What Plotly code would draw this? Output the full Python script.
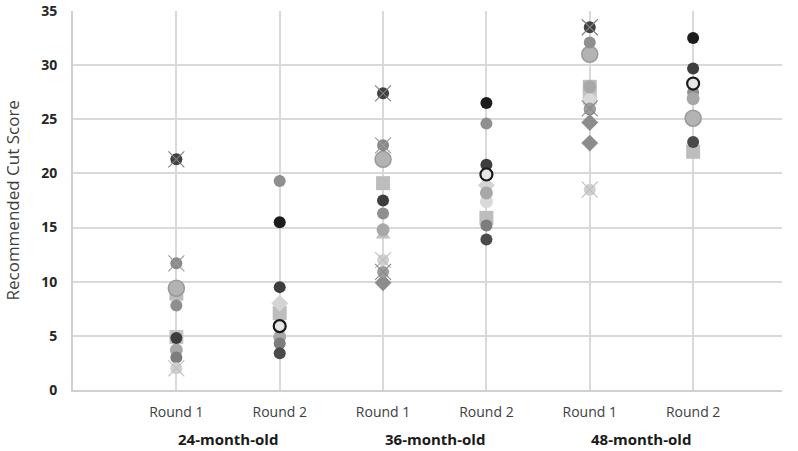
import plotly.graph_objects as go

# Categories (x positions 0..5)
round_labels = ["Round 1", "Round 2", "Round 1", "Round 2", "Round 1", "Round 2"]
age_groups = ["24-month-old", "36-month-old", "48-month-old"]
y_ticks = [0, 5, 10, 15, 20, 25, 30, 35]

# Panelist recommended cut scores per category (None = no marker)
s_dark_x = [21.3, None, 27.4, None, 33.5, None]
s_gray_x = [11.7, None, 22.6, None, None, None]
s_big_circle = [9.4, None, 21.3, None, 31.0, 25.1]
s_light_square = [8.9, 7.1, 19.1, 15.9, 28.0, 22.0]
s_light_square2 = [4.9, None, None, None, 27.0, None]
s_gray_circle = [7.8, 19.3, 16.3, 24.6, 32.1, 27.5]
s_dark_circle = [4.8, 9.5, 17.5, 20.8, None, 29.7]
s_lgray_circle = [3.7, 4.9, 14.8, 18.2, 28.0, 26.9]
s_gray_circle2 = [3.0, 4.3, None, 15.2, 25.9, None]
s_light_x = [2.0, None, 12.0, None, 18.5, None]
s_black_circle = [None, 15.5, None, 26.5, None, 32.5]
s_light_diamond = [None, 8.0, None, 18.9, None, None]
s_open_circle = [None, 5.9, None, 19.9, None, 28.3]
s_dark_circle2 = [None, 3.4, None, 13.9, None, 22.9]
s_triangle = [None, None, 14.3, None, None, None]
s_gray_x2 = [None, None, 10.9, None, 26.0, None]
s_diamond = [None, None, 9.9, None, 24.7, None]
s_diamond2 = [None, None, None, None, 22.8, None]
s_light_circle = [None, None, None, 17.4, 26.8, None]

xpos = list(range(len(round_labels)))

fig = go.Figure()

def add(vals, color, symbol="circle", size=12, line_color=None, line_width=0, xmark=False, xcolor=None):
    xs = [x for x, v in zip(xpos, vals) if v is not None]
    ys = [v for v in vals if v is not None]
    fig.add_trace(go.Scatter(
        x=xs, y=ys, mode="markers", showlegend=False, hoverinfo="y",
        marker=dict(symbol=symbol, size=size, color=color,
                    line=dict(color=line_color or color, width=line_width))))
    if xmark:
        fig.add_trace(go.Scatter(
            x=xs, y=ys, mode="markers", showlegend=False, hoverinfo="skip",
            marker=dict(symbol="x-thin-open", size=16, color=xcolor or color,
                        line=dict(color=xcolor or color, width=1.1))))

add(s_light_square, "#bdbdbd", symbol="square", size=14)
add(s_light_square2, "#c4c4c4", symbol="square", size=14)
add(s_big_circle, "#b3b3b3", size=16, line_color="#9a9a9a", line_width=1.5)
add(s_light_diamond, "#d4d4d4", symbol="diamond", size=13)
add(s_triangle, "#c2c2c2", symbol="triangle-up", size=13)
add(s_light_circle, "#d9d9d9", size=13)
add(s_gray_circle, "#8f8f8f", size=12)
add(s_lgray_circle, "#a8a8a8", size=13)
add(s_gray_circle2, "#7d7d7d", size=12)
add(s_diamond, "#8c8c8c", symbol="diamond", size=13)
add(s_diamond2, "#8c8c8c", symbol="diamond", size=13)
add(s_light_x, "#cfcfcf", size=12, xmark=True, xcolor="#bdbdbd")
add(s_gray_x, "#8a8a8a", size=12, xmark=True, xcolor="#9a9a9a")
add(s_gray_x2, "#9c9c9c", size=12, xmark=True, xcolor="#8a8a8a")
add(s_dark_x, "#424242", size=12, xmark=True, xcolor="#808080")
add(s_dark_circle, "#3d3d3d", size=12)
add(s_dark_circle2, "#4a4a4a", size=12)
add(s_black_circle, "#1c1c1c", size=12)
add(s_open_circle, "#e6e6e6", size=12, line_color="#1a1a1a", line_width=2.2)

for i, g in enumerate(age_groups):
    fig.add_annotation(x=2 * i + 0.5, y=-0.13, xref="x", yref="paper",
                       text=g, showarrow=False, yanchor="middle",
                       font=dict(size=15, color="#1a1a1a", family="Open Sans", weight="bold"))

fig.add_annotation(x=-0.086, y=0.5, xref="paper", yref="paper", text="Recommended Cut Score",
                   textangle=-90, showarrow=False, xanchor="center", yanchor="middle",
                   font=dict(size=17, color="#404040", family="Open Sans"))

fig.update_layout(
    width=798, height=451,
    margin=dict(l=73, r=16, t=11, b=61, autoexpand=False),
    paper_bgcolor="white", plot_bgcolor="white",
    font=dict(family="Open Sans", color="#404040"),
    xaxis=dict(range=[-1, 5.86], tickmode="array", tickvals=xpos, ticktext=round_labels,
               showgrid=True, gridcolor="#d9d9d9", gridwidth=2,
               showline=True, linecolor="#d0d0d0", linewidth=2,
               zeroline=False, ticks="", tickfont=dict(size=14, color="#404040"),
               ticklabelstandoff=8, automargin=False),
    yaxis=dict(range=[0, 35], tickmode="array", tickvals=y_ticks,
               showgrid=True, gridcolor="#d9d9d9", gridwidth=2,
               showline=True, linecolor="#d0d0d0", linewidth=2,
               zeroline=False, ticks="",
               tickfont=dict(size=14, color="#262626", family="Open Sans", weight="bold"),
               ticklabelstandoff=11, automargin=False),
)

fig.write_html("out.html", config={"displayModeBar": False},
               post_script="document.body.style.margin='0';")
